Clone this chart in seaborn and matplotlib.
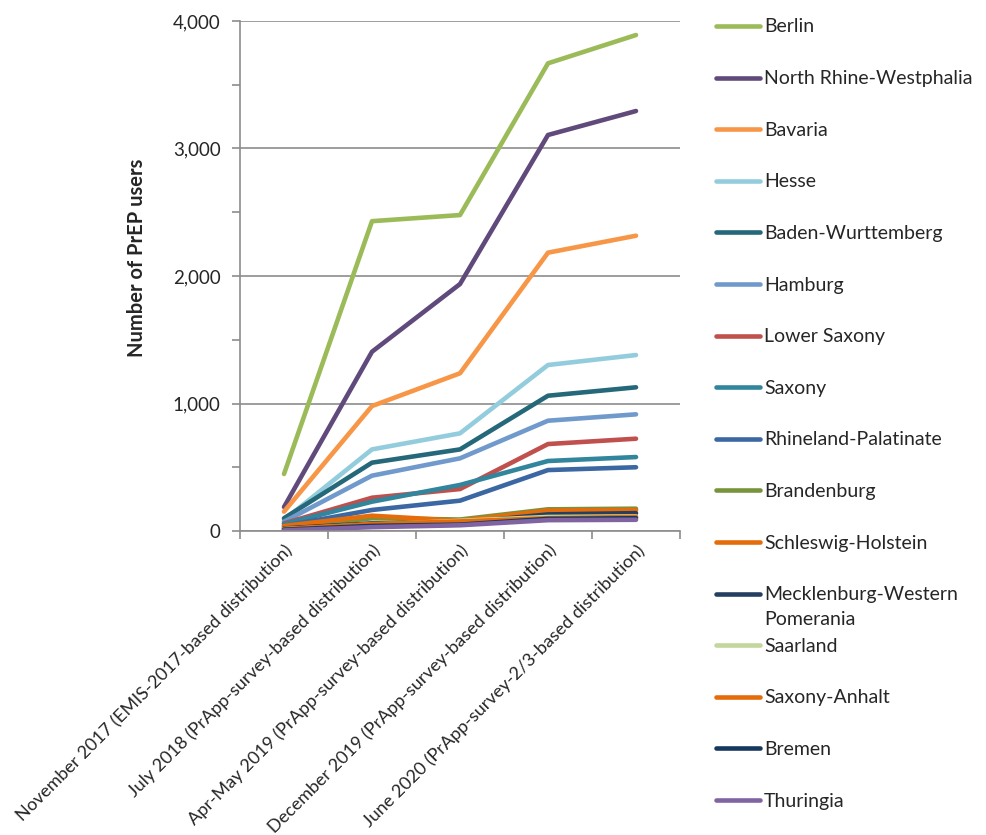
import matplotlib
matplotlib.use("Agg")
import matplotlib.pyplot as plt
import seaborn as sns
import pandas as pd
from matplotlib.lines import Line2D
from matplotlib.ticker import FuncFormatter, MultipleLocator, FixedLocator

periods = [
    "November 2017 (EMIS-2017-based distribution)",
    "July 2018 (PrApp-survey-based distribution)",
    "Apr-May 2019 (PrApp-survey-based distribution)",
    "December 2019 (PrApp-survey-based distribution)",
    "June 2020 (PrApp-survey-2/3-based distribution)",
]

states = [
    "Berlin", "North Rhine-Westphalia", "Bavaria", "Hesse", "Baden-Wurttemberg",
    "Hamburg", "Lower Saxony", "Saxony", "Rhineland-Palatinate", "Brandenburg",
    "Schleswig-Holstein", "Mecklenburg-Western Pomerania", "Saarland",
    "Saxony-Anhalt", "Bremen", "Thuringia",
]

berlin = [447, 2430, 2478, 3668, 3890]
nrw = [188, 1406, 1937, 3106, 3294]
bavaria = [152, 980, 1237, 2183, 2316]
hesse = [86, 640, 766, 1302, 1380]
baden_wurttemberg = [100, 536, 640, 1061, 1127]
hamburg = [73, 434, 570, 865, 915]
lower_saxony = [60, 261, 329, 682, 724]
saxony = [55, 230, 361, 549, 580]
rhineland_palatinate = [40, 165, 238, 478, 500]
brandenburg = [30, 100, 90, 170, 175]
schleswig_holstein = [40, 120, 80, 160, 165]
mecklenburg = [20, 60, 65, 130, 140]
saarland = [15, 50, 80, 110, 115]
saxony_anhalt = [15, 55, 75, 100, 110]
bremen = [10, 40, 50, 95, 100]
thuringia = [5, 30, 45, 85, 88]

series = [berlin, nrw, bavaria, hesse, baden_wurttemberg, hamburg, lower_saxony,
          saxony, rhineland_palatinate, brandenburg, schleswig_holstein, mecklenburg,
          saarland, saxony_anhalt, bremen, thuringia]

colors = ["#9BBB59", "#604A7B", "#F79646", "#93CDDD", "#24687A", "#7099CC",
          "#C0504D", "#31859C", "#3B67A3", "#77933C", "#E46C0A", "#243F60",
          "#C3D69B", "#E46C0A", "#17375E", "#8064A2"]

rows = []
for s, vals in zip(states, series):
    for i, v in enumerate(vals):
        rows.append({"state": s, "pos": i, "users": v})
df = pd.DataFrame(rows)

sns.set_style("white")
plt.rcParams["font.family"] = ["Lato", "DejaVu Sans"]

fig = plt.figure(figsize=(9.87, 8.35), dpi=100)
ax = fig.add_axes([240/987, 1 - 531/835, 440/987, 510/835])

palette = dict(zip(states, colors))
sns.lineplot(data=df, x="pos", y="users", hue="state", hue_order=states,
             palette=palette, linewidth=3.3, legend=False, ax=ax,
             solid_capstyle="round", solid_joinstyle="round")

ax.set_xlim(-0.5, 4.5)
ax.set_ylim(0, 4000)
ax.yaxis.set_major_locator(MultipleLocator(1000))
ax.yaxis.set_minor_locator(MultipleLocator(500))
ax.yaxis.set_major_formatter(FuncFormatter(lambda v, p: f"{int(v):,}"))
ax.grid(axis="y", which="major", color="#8C8C8C", linewidth=1.2)
ax.set_axisbelow(True)

ax.set_xticks(range(len(periods)))
ax.set_xticklabels(periods, rotation=45, ha="right", rotation_mode="anchor",
                   fontsize=13)
ax.xaxis.set_minor_locator(FixedLocator([-0.5, 0.5, 1.5, 2.5, 3.5, 4.5]))
ax.tick_params(axis="x", which="major", length=0, pad=8)
ax.tick_params(axis="x", which="minor", length=6, width=1.2, color="#8C8C8C",
               direction="out", bottom=True)
ax.tick_params(axis="y", which="both", length=6, width=1.2, color="#8C8C8C",
               direction="out", left=True, labelsize=13.5)
ax.tick_params(axis="y", which="major", pad=8)

for sp in ["top", "right"]:
    ax.spines[sp].set_visible(False)
for sp in ["left", "bottom"]:
    ax.spines[sp].set_color("#8C8C8C")
    ax.spines[sp].set_linewidth(1.2)

ax.set_xlabel("")
ax.set_ylabel("Number of PrEP users", fontsize=14.5, fontweight="bold")
ax.yaxis.set_label_coords((147 - 240) / 440, (531 - 258) / 510)

# legend
W, H = 987, 835
for i, (lab, c) in enumerate(zip(states, colors)):
    y = 26 + i * 51.6
    fig.add_artist(Line2D([716/W, 760/W], [1 - y/H, 1 - y/H], color=c,
                          linewidth=3.3, solid_capstyle="round",
                          transform=fig.transFigure))
    if lab == "Mecklenburg-Western Pomerania":
        parts = ["Mecklenburg-Western", "Pomerania"]
    else:
        parts = [lab]
    for j, part in enumerate(parts):
        fig.text(764/W, 1 - (y + 6.5 + 25 * j)/H, part, fontsize=14,
                 va="baseline", ha="left")

fig.savefig("out.png", dpi=100)
